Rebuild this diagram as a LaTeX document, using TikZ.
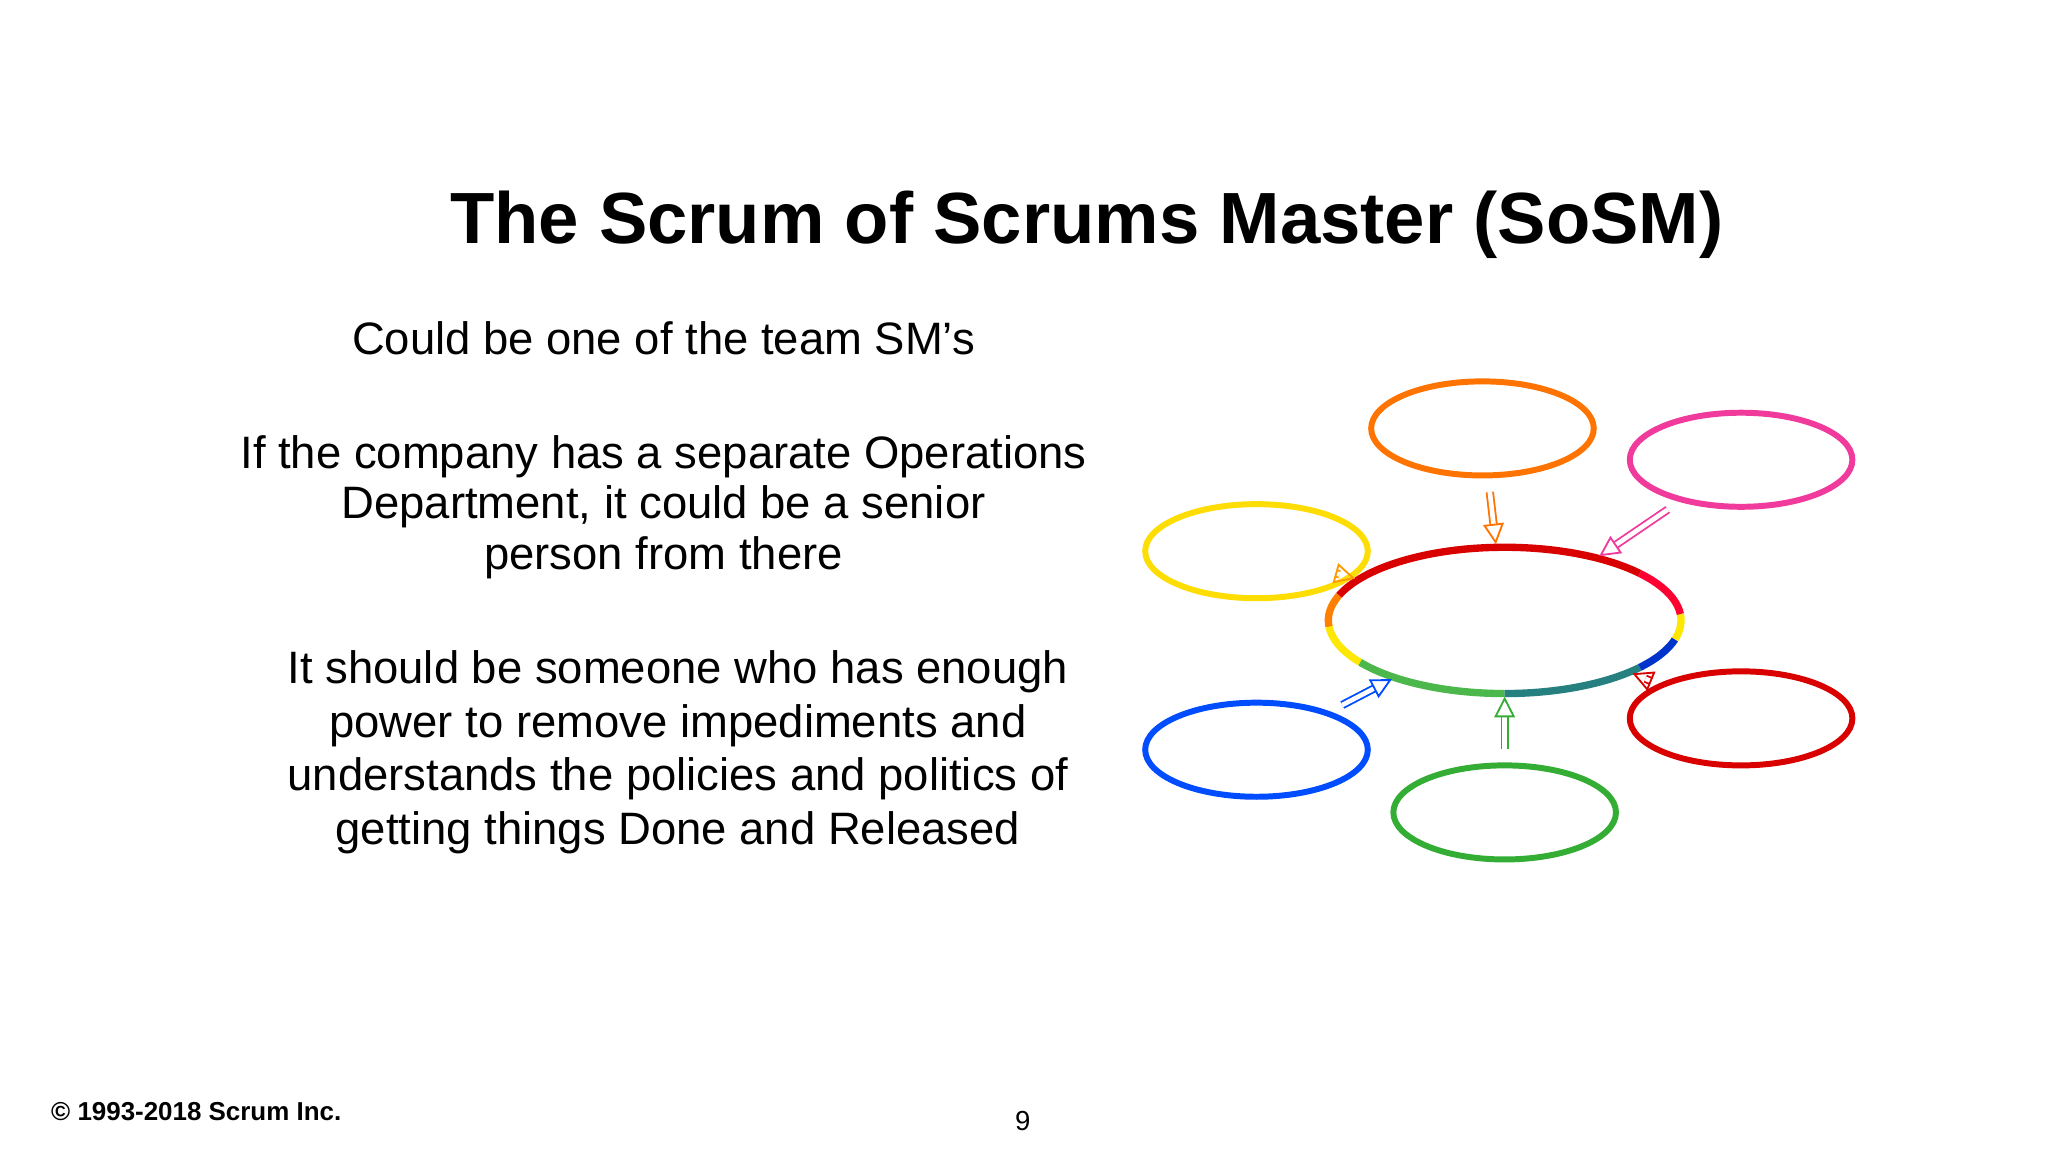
\documentclass[tikz,border=0pt]{standalone}
\usepackage{fontspec}
\setmainfont{Liberation Sans}
\usetikzlibrary{shapes.geometric,arrows.meta}
\begin{document}
\begin{tikzpicture}[x=0.02cm,y=-0.02cm,
  sat/.style={ellipse,minimum width=97pt,minimum height=41pt,line width=2.6pt},
  body/.style={font=\fontsize{19.8}{22}\selectfont,align=center},
  arr/.style={double=white,double distance=2pt,line width=0.8pt,-{Triangle[open,length=9pt,width=9pt]},shorten >=1pt,shorten <=6pt}]
\useasboundingbox (0,0) rectangle (1568,882);
\fill[white] (0,0) rectangle (1568,882);
\node[font=\fontsize{31.6}{38}\bfseries\selectfont] (title) at (832,172) {The Scrum of Scrums Master (SoSM)};
\node[body] (t1) at (508,259) {Could be one of the team SM’s};
\node[body] (t2) at (508,388) {If the company has a separate Operations\\Department, it could be a senior\\person from there};
\node[body,font=\fontsize{19.8}{23.3}\selectfont] (t3) at (519,576) {It should be someone who has enough\\power to remove impediments and\\understands the policies and politics of\\getting things Done and Released};
\node[font=\fontsize{11.3}{13}\bfseries\selectfont,anchor=west] (copy) at (33,851) {© 1993-2018 Scrum Inc.};
\node[font=\fontsize{12}{14}\selectfont] (pg) at (783,858) {9};
% central ellipse
\node[ellipse,minimum width=154pt,minimum height=64pt] (c) at (1152,475) {};
\begin{scope}[line width=3.2pt]
\draw[red!85!black] (1152,475) ++(-40:135 and 56) arc (-40:-160:135 and 56);
\draw[orange] (1152,475) ++(-160:135 and 56) arc (-160:-185:135 and 56);
\draw[yellow!90!orange] (1152,475) ++(-185:135 and 56) arc (-185:-215:135 and 56);
\draw[green!60!black!70] (1152,475) ++(-215:135 and 56) arc (-215:-270:135 and 56);
\draw[teal!70!gray] (1152,475) ++(-270:135 and 56) arc (-270:-320:135 and 56);
\draw[blue!60!teal] (1152,475) ++(-320:135 and 56) arc (-320:-345:135 and 56);
\draw[yellow!90!orange] (1152,475) ++(-345:135 and 56) arc (-345:-365:135 and 56);
\draw[red!80!magenta] (1152,475) ++(-5:135 and 56) arc (-5:-40:135 and 56);
\end{scope}
\node[sat,draw=orange!90!red] (so) at (1135,328) {};
\node[sat,draw=magenta!70!pink] (sp) at (1333,352) {};
\node[sat,draw=yellow!80!orange] (sy) at (962,422) {};
\node[sat,draw=red!85!black] (sr) at (1333,550) {};
\node[sat,draw=blue!70!cyan] (sb) at (962,574) {};
\node[sat,draw=green!60!black!80] (sg) at (1152,622) {};
\draw[arr,draw=orange!90!red] (so) -- (c);
\draw[arr,draw=magenta!70!pink] (sp) -- (c);
\draw[arr,draw=orange!80!yellow] (sy) -- (c);
\draw[arr,draw=red!85!black] (sr) -- (c);
\draw[arr,draw=blue!70!cyan] (sb) -- (c);
\draw[arr,draw=green!60!black!80] (sg) -- (c);
\end{tikzpicture}
\end{document}
